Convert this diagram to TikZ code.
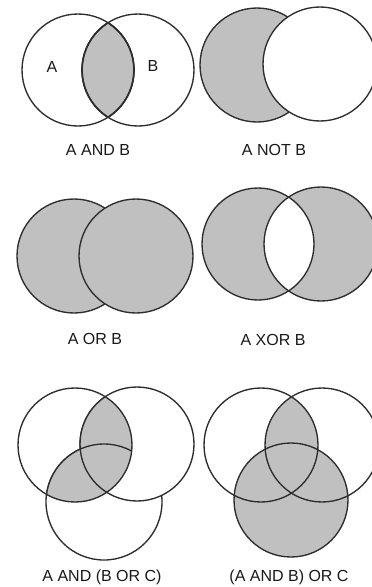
\documentclass[tikz,border=0pt]{standalone}
\usepackage{fontspec}
\setmainfont{Liberation Sans}
\definecolor{shade}{RGB}{192,192,192}
\definecolor{edge}{RGB}{45,45,45}
\begin{document}
\begin{tikzpicture}[x=1pt,y=-1pt,
  ring/.style={draw=edge,line width=1.35pt},
  filled/.style={fill=shade},
  lbl/.style={font=\fontsize{16}{18}\selectfont,anchor=base,inner sep=0pt,text=black!90}]
\useasboundingbox (0,0) rectangle (372,587);
\fill[white] (0,0) rectangle (372,587);
% ---------- Panel 1: A AND B
\coordinate (p1a) at (78,70);
\coordinate (p1b) at (138,70);
\begin{scope}
  \clip (p1a) circle[radius=56];
  \fill[filled] (p1b) circle[radius=56];
\end{scope}
\draw[ring] (p1a) circle[radius=56];
\draw[ring] (p1b) circle[radius=56];
\begin{scope}
  \clip (p1a) circle[radius=56];
  \draw[ring,line width=1.7pt] (p1b) circle[radius=56];
\end{scope}
\begin{scope}
  \clip (p1b) circle[radius=56];
  \draw[ring,line width=1.7pt] (p1a) circle[radius=56];
\end{scope}
\node[lbl] (la) at (52,72) {A};
\node[lbl] (lb) at (153,71) {B};
\node[lbl] (t1) at (98,155) {A AND B};
% ---------- Panel 2: A NOT B
\coordinate (p2a) at (257,65);
\coordinate (p2b) at (320,64);
\fill[filled] (p2a) circle[radius=57];
\draw[ring] (p2a) circle[radius=57];
\fill[white] (p2b) circle[radius=57];
\draw[ring] (p2b) circle[radius=57];
\node[lbl] (t2) at (274,155) {A NOT B};
% ---------- Panel 3: A OR B
\coordinate (p3a) at (74,256);
\coordinate (p3b) at (136,256);
\fill[filled] (p3a) circle[radius=57];
\draw[ring] (p3a) circle[radius=57];
\fill[filled] (p3b) circle[radius=57];
\draw[ring] (p3b) circle[radius=57];
\node[lbl] (t3) at (95,344) {A OR B};
% ---------- Panel 4: A XOR B
\coordinate (p4a) at (258,244);
\coordinate (p4b) at (321,244);
\fill[filled,even odd rule] (p4a) circle[radius=56] (p4b) circle[radius=57];
\draw[ring] (p4a) circle[radius=56];
\draw[ring] (p4b) circle[radius=57];
\node[lbl] (t4) at (273,345) {A XOR B};
% ---------- Panel 5: A AND (B OR C)
\coordinate (p5a) at (75,445);
\coordinate (p5b) at (137,444);
\coordinate (p5c) at (104,502);
\draw[ring] (p5c) circle[radius=58];
\fill[white] (p5b) circle[radius=57];
\draw[ring] (p5b) circle[radius=57];
\begin{scope}
  \clip (p5a) circle[radius=57];
  \fill[filled] (p5b) circle[radius=57];
  \fill[filled] (p5c) circle[radius=58];
  \draw[ring] (p5b) circle[radius=57];
  \draw[ring] (p5c) circle[radius=58];
\end{scope}
\draw[ring] (p5a) circle[radius=57];
\node[lbl] (t5) at (102,581) {A AND (B OR C)};
% ---------- Panel 6: (A AND B) OR C
\coordinate (p6a) at (261,445);
\coordinate (p6b) at (322,445);
\coordinate (p6c) at (291,500);
\begin{scope}
  \clip (p6a) circle[radius=57];
  \fill[filled] (p6b) circle[radius=57];
\end{scope}
\fill[filled] (p6c) circle[radius=57];
\draw[ring] (p6a) circle[radius=57];
\draw[ring] (p6b) circle[radius=57];
\draw[ring] (p6c) circle[radius=57];
\node[lbl] (t6) at (289,581) {(A AND B) OR C};
\end{tikzpicture}
\end{document}
